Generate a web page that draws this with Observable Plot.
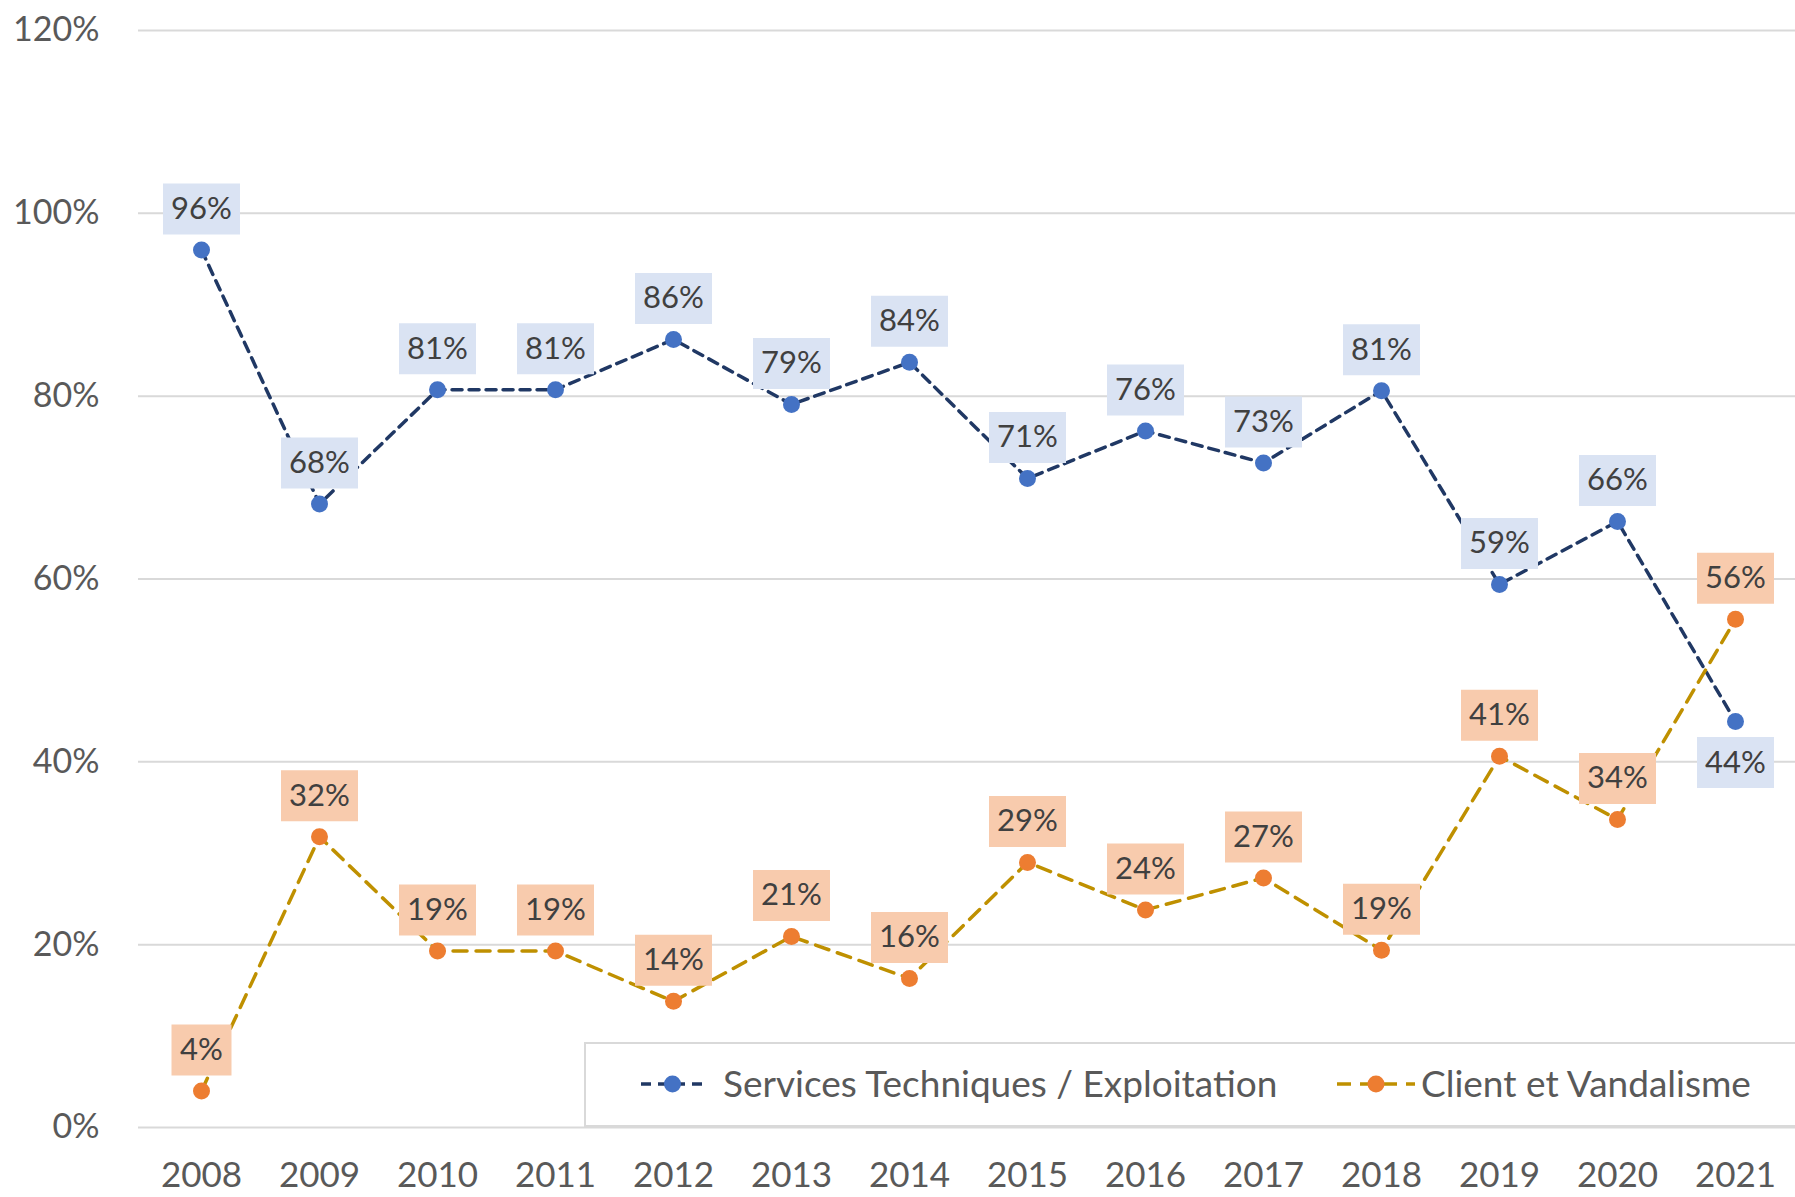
<!DOCTYPE html>
<html><head><meta charset="utf-8">
<script src="https://cdn.jsdelivr.net/npm/d3@7"></script>
<script src="https://cdn.jsdelivr.net/npm/@observablehq/plot@0.6"></script>
<style>
body{margin:0;background:#fff}
#wrap{position:relative;width:1795px;height:1197px;overflow:hidden}
#legend{position:absolute;left:0;top:0;pointer-events:none}
</style>
</head><body><div id="wrap"></div>
<script>
const years = ["2008","2009","2010","2011","2012","2013","2014","2015","2016","2017","2018","2019","2020","2021"];
const services = [96.0, 68.2, 80.7, 80.7, 86.2, 79.1, 83.7, 71.0, 76.2, 72.7, 80.6, 59.4, 66.3, 44.4];
const client   = [4.0, 31.8, 19.3, 19.3, 13.8, 20.9, 16.3, 29.0, 23.8, 27.3, 19.4, 40.6, 33.7, 55.6];
const yTicks = [0, 20, 40, 60, 80, 100, 120];
const seriesNames = ["Services Techniques / Exploitation", "Client et Vandalisme"];

const servRows = years.map((year, i) => ({year, value: services[i]}));
const cliRows = years.map((year, i) => ({year, value: client[i]}));
const servBelow = new Set(["2021"]);

const lab = d => Math.round(d.value) + "%";
const boxSym = (w, h) => ({draw(ctx) { ctx.rect(-w / 2, -h / 2, w, h); }});
const wideBox = boxSym(77, 51), narrowBox = boxSym(60, 51);
const OFF = 41;

function labelMarks(rows, fill, belowSet) {
  const above = rows.filter(d => !belowSet.has(d.year));
  const below = rows.filter(d => belowSet.has(d.year));
  const marks = [];
  for (const [set, dy] of [[above, -OFF], [below, OFF]]) {
    marks.push(Plot.dot(set.filter(d => lab(d).length > 2), {x: "year", y: "value", symbol: wideBox, r: 1, fill, stroke: "none", dy}));
    marks.push(Plot.dot(set.filter(d => lab(d).length <= 2), {x: "year", y: "value", symbol: narrowBox, r: 1, fill, stroke: "none", dy}));
    marks.push(Plot.text(set, {x: "year", y: "value", text: lab, dy, fontSize: 31, fill: "#404040", lineAnchor: "middle", textAnchor: "middle"}));
  }
  return marks;
}

const chart = Plot.plot({
  width: 1795,
  height: 1197,
  marginLeft: 138,
  marginRight: 0,
  marginTop: 30,
  marginBottom: 70,
  style: {fontFamily: "Lato", color: "#595959", background: "#fff"},
  x: {type: "point", domain: years, padding: 0, range: [197, 1738]},
  y: {domain: [0, 120]},
  marks: [
    Plot.ruleY(yTicks, {stroke: "#d9d9d9", strokeWidth: 2}),
    Plot.axisY({ticks: yTicks, tickFormat: d => d + "%", tickSize: 0, tickPadding: 39, fontSize: 34, label: null}),
    Plot.axisX({tickSize: 0, tickPadding: 35, fontSize: 35, label: null}),
    Plot.line(servRows, {x: "year", y: "value", stroke: "#203864", strokeWidth: 3.5, strokeDasharray: "10,7"}),
    Plot.line(cliRows, {x: "year", y: "value", stroke: "#bf9000", strokeWidth: 3.5, strokeDasharray: "14,9"}),
    Plot.dot(servRows, {x: "year", y: "value", r: 8.5, fill: "#4472c4"}),
    Plot.dot(cliRows, {x: "year", y: "value", r: 8.5, fill: "#ed7d31"}),
    ...labelMarks(servRows, "#dae3f3", servBelow),
    ...labelMarks(cliRows, "#f8cbad", new Set())
  ]
});
const wrap = document.getElementById("wrap");
wrap.appendChild(chart);

// Legend overlay
const lg = d3.select(wrap).append("svg").attr("id", "legend").attr("width", 1795).attr("height", 1197);
lg.append("rect").attr("x", 585).attr("y", 1043).attr("width", 1230).attr("height", 83)
  .attr("fill", "#fff").attr("stroke", "#d9d9d9").attr("stroke-width", 2);
const items = [
  {name: seriesNames[0], x0: 641, x1: 704, line: "#203864", dot: "#4472c4", dash: "10,7", tx: 723},
  {name: seriesNames[1], x0: 1337, x1: 1415, line: "#bf9000", dot: "#ed7d31", dash: "14,9", tx: 1421}
];
for (const it of items) {
  lg.append("line").attr("x1", it.x0).attr("x2", it.x1).attr("y1", 1084).attr("y2", 1084)
    .attr("stroke", it.line).attr("stroke-width", 3.5).attr("stroke-dasharray", it.dash);
  lg.append("circle").attr("cx", (it.x0 + it.x1) / 2).attr("cy", 1084).attr("r", 8.5).attr("fill", it.dot);
  lg.append("text").attr("x", it.tx).attr("y", 1084).attr("dy", "0.35em").attr("font-family", "Lato")
    .attr("font-size", 37).attr("fill", "#595959").text(it.name);
}
</script>
</body></html>
